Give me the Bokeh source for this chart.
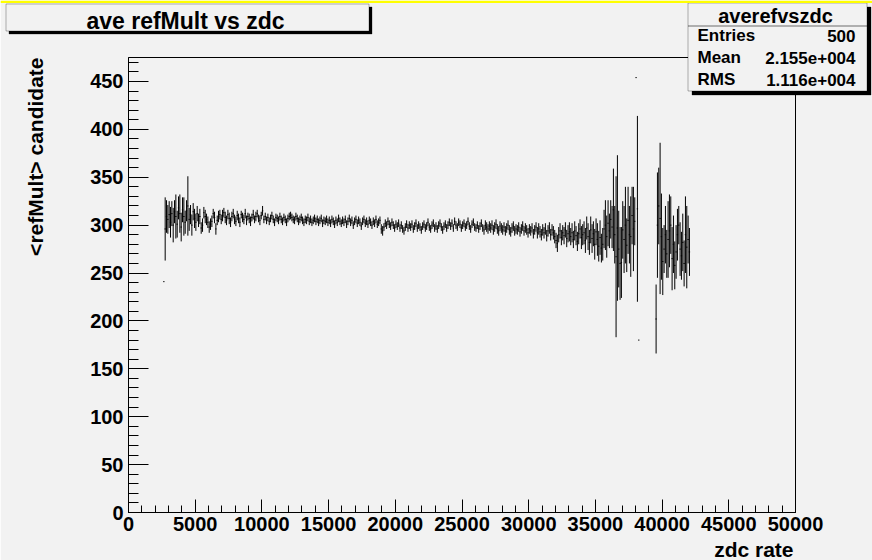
import math
from bokeh.plotting import figure
from bokeh.models import (Range1d, SingleIntervalTicker, Label, BoxAnnotation,
                          BasicTickFormatter, ColumnDataSource)
from bokeh.embed import file_html
from bokeh.resources import INLINE

# ---------------- data (TProfile "averefvszdc", 500 bins 0..50000) ----------------
BIN_WIDTH = 100
FIRST_BIN = 2600
N = None

mean_rows = [
    [241, 296, 309, 306, 311, 303, 312, 300, 314, 309],   # 2600
    [301, 318, 312, 298, 316, 309, 303, 315, 320, 306],   # 3600
    [311, 300, 314, 307, 303, 312, 305, 309, 297, 300],   # 4600
    [313, 309, 306, 303, 298, 301, 304, 312, 308, 296],   # 5600
    [305, 309, 311, 306, 310, 313, 308, 305, 311, 307],   # 6600
    [303, 309, 312, 306, 304, 310, 307, 303, 311, 308],   # 7600
    [306, 312, 305, 309, 307, 304, 308, 311, 306, 309],   # 8600
    [312, 307, 305, 310, 315, 306, 309, 305, 308, 304],   # 9600
    [307, 310, 306, 303, 308, 307, 305, 309, 306, 304],   # 10600
    [308, 306, 303, 307, 309, 310, 308, 306, 305, 309],   # 11600
    [307, 304, 306, 308, 305, 303, 306, 305, 308, 304],   # 12600
    [306, 303, 305, 307, 304, 306, 303, 305, 307, 302],   # 13600
    [305, 304, 306, 303, 305, 302, 306, 304, 301, 305],   # 14600
    [303, 307, 304, 302, 305, 303, 306, 301, 304, 307],   # 15600
    [303, 305, 300, 304, 306, 302, 305, 303, 299, 304],   # 16600
    [306, 302, 304, 301, 305, 303, 300, 304, 302, 306],   # 17600
    [301, 303, 305, 296, 294, 298, 302, 300, 304, 301],   # 18600
    [299, 303, 300, 297, 301, 299, 302, 297, 300, 296],   # 19600
    [294, 298, 301, 297, 300, 298, 301, 296, 299, 302],   # 20600
    [297, 300, 298, 295, 299, 301, 297, 299, 303, 298],   # 21600
    [296, 300, 302, 297, 299, 296, 300, 302, 298, 295],   # 22600
    [299, 301, 297, 300, 303, 299, 302, 297, 304, 300],   # 23600
    [298, 303, 301, 297, 300, 302, 298, 300, 304, 299],   # 24600
    [296, 301, 303, 298, 297, 300, 296, 299, 302, 297],   # 25600
    [295, 300, 298, 296, 299, 297, 300, 295, 298, 301],   # 26600
    [296, 294, 299, 297, 295, 298, 294, 297, 300, 295],   # 27600
    [293, 297, 299, 294, 296, 295, 298, 293, 296, 299],   # 28600
    [294, 297, 295, 292, 296, 294, 297, 291, 295, 298],   # 29600
    [292, 296, 293, 290, 295, 292, 296, 289, 294, 297],   # 30600
    [290, 295, 292, 288, 284, 281, 290, 294, 287, 292],   # 31600
    [289, 295, 286, 291, 293, 288, 292, 285, 294, 289],   # 32600
    [283, 291, 296, 287, 290, 292, 284, 297, 288, 282],   # 33600
    [295, 286, 291, 280, 293, 285, 278, 287, 276, 280],   # 34600
    [296, 300, 288, 302, 294, 306, 298, 316, 290, 267],   # 35600
    [297, 275, 260, 261, 295, 285, 300, 279, 305, 290],   # 36600
    [288, 310, 296, 304, 454, 317, 180, N, N, N],         # 37600
    [N, N, N, N, N, N, N, N, N, 202],                     # 38600
    [300, 320, 307, 288, 262, 275, 290, 270, 285, 294],   # 39600
    [300, 265, 280, 258, 272, 290, 300, 275, 268, 282],   # 40600
    [260, 290, 277, 285, 272],                            # 41600
]

err_rows = [
    [0, 33, 17, 15, 14, 16, 13, 18, 12, 23],
    [14, 12, 20, 15, 13, 20, 12, 11, 31, 12],
    [10, 11, 9, 10, 9, 8, 7, 8, 6, 7],
    [6, 7, 6, 6, 6, 6, 6, 5, 6, 6],
    [5, 6, 5, 5, 6, 5, 6, 5, 5, 6],
    [5, 5, 5, 5, 5, 5, 5, 5, 4, 5],
    [5, 5, 5, 4, 5, 5, 4, 5, 4, 5],
    [4, 4, 5, 4, 5, 4, 4, 4, 4, 4],
    [4, 4, 4, 4, 4, 4, 4, 4, 4, 4],
    [4, 4, 4, 4, 4, 4, 4, 4, 4, 4],
    [4, 4, 4, 4, 4, 4, 4, 4, 4, 4],
    [4, 4, 4, 4, 4, 4, 4, 4, 4, 4],
    [4, 4, 4, 4, 4, 4, 4, 4, 4, 4],
    [4, 4, 4, 4, 4, 4, 4, 4, 4, 4],
    [4, 4, 4, 4, 4, 4, 4, 4, 4, 4],
    [4, 4, 4, 4, 4, 4, 4, 4, 4, 4],
    [4, 4, 4, 5, 5, 4, 4, 4, 4, 4],
    [4, 4, 4, 4, 4, 4, 4, 4, 4, 4],
    [4, 4, 4, 4, 4, 4, 4, 4, 4, 4],
    [4, 4, 4, 4, 4, 4, 4, 4, 4, 4],
    [4, 4, 4, 4, 4, 4, 4, 4, 4, 4],
    [4, 4, 4, 4, 4, 4, 4, 4, 4, 4],
    [4, 4, 4, 4, 4, 4, 4, 4, 4, 4],
    [4, 4, 4, 4, 4, 4, 4, 4, 4, 4],
    [5, 5, 5, 5, 5, 5, 5, 5, 5, 5],
    [5, 5, 5, 5, 5, 5, 5, 5, 5, 5],
    [5, 5, 5, 5, 5, 5, 5, 5, 5, 5],
    [5, 5, 5, 5, 5, 5, 5, 5, 5, 5],
    [6, 6, 6, 6, 6, 6, 6, 6, 6, 6],
    [6, 6, 7, 7, 8, 9, 8, 8, 8, 8],
    [9, 8, 9, 9, 10, 9, 10, 9, 10, 10],
    [10, 11, 10, 12, 11, 12, 13, 12, 14, 13],
    [14, 15, 13, 16, 14, 17, 16, 18, 15, 17],
    [20, 26, 22, 24, 18, 20, 22, 43, 30, 84],
    [76, 40, 38, 37, 30, 35, 40, 28, 35, 30],
    [42, 30, 44, 25, 0, 97, 0, N, N, N],
    [N, N, N, N, N, N, N, N, N, 36],
    [55, 40, 79, 45, 35, 25, 30, 25, 40, 38],
    [30, 33, 30, 25, 28, 27, 20, 28, 25, 30],
    [24, 40, 43, 25, 25],
]

title_text = "ave refMult vs zdc"
x_title = "zdc rate"
y_title = "<refMult> candidate"
stats_title = "averefvszdc"
stats_names = ["Entries", "Mean", "RMS"]
stats_values = ["500", "2.155e+004", "1.116e+004"]

X_MIN, X_MAX = 0, 50000
Y_MIN, Y_MAX = 0, 475

# ---------------- build bins ----------------
means = [v for row in mean_rows for v in row]
errs = [v for row in err_rows for v in row]
x_lo, x_hi, x_c, y_m, y_lo, y_hi = [], [], [], [], [], []
for i, (m, e) in enumerate(zip(means, errs)):
    if m is None:
        continue
    lo = FIRST_BIN + i * BIN_WIDTH
    x_lo.append(lo)
    x_hi.append(lo + BIN_WIDTH)
    x_c.append(lo + BIN_WIDTH / 2)
    y_m.append(m)
    y_lo.append(m - e)
    y_hi.append(m + e)
src = ColumnDataSource(dict(x_lo=x_lo, x_hi=x_hi, x_c=x_c, y_m=y_m, y_lo=y_lo, y_hi=y_hi))

# ---------------- layout (window pixel coords) ----------------
W, H = 872, 560
FL, FR, FT, FB = 128, 795, 57, 512     # frame edges
BG = "#f2f2f2"
FONT = "Liberation Sans"
PIN = {"position": "absolute", "left": "0px", "top": "0px"}
SHIFT = 7   # label baseline correction (px)

p = figure(width=W, height=H, x_range=Range1d(X_MIN, X_MAX), y_range=Range1d(Y_MIN, Y_MAX),
           output_backend="svg", toolbar_location=None, title=None,
           min_border_left=FL, min_border_right=W - FR, min_border_top=FT, min_border_bottom=H - FB,
           background_fill_color=BG, border_fill_color=BG)
p.styles = PIN
p.outline_line_color = "black"
p.outline_line_width = 1
p.grid.visible = False

p.xaxis.ticker = SingleIntervalTicker(interval=5000, num_minor_ticks=5)
p.yaxis.ticker = SingleIntervalTicker(interval=50, num_minor_ticks=5)
for ax in (p.xaxis[0], p.yaxis[0]):
    ax.formatter = BasicTickFormatter(use_scientific=False)
    ax.axis_line_color = "black"
    ax.major_tick_line_color = "black"
    ax.minor_tick_line_color = "black"
    ax.major_tick_out = 0
    ax.minor_tick_out = 0
    ax.major_label_text_font = FONT
    ax.major_label_text_font_style = "bold"
    ax.major_label_text_font_size = "20px"
    ax.major_label_text_color = "black"
p.xaxis.major_tick_in = 13
p.xaxis.minor_tick_in = 7
p.xaxis.major_label_standoff = 4
p.yaxis.major_tick_in = 20
p.yaxis.minor_tick_in = 10
p.yaxis.major_label_standoff = 5

# profile bins: horizontal bin-width bar + vertical error bar
p.segment(x0="x_lo", y0="y_m", x1="x_hi", y1="y_m", source=src, line_color="black", line_width=1)
p.segment(x0="x_c", y0="y_lo", x1="x_c", y1="y_hi", source=src, line_color="black", line_width=1)

# ---------------- overlay canvas for panes and titles (pixel coordinates) ----------------
o = figure(width=W, height=H, x_range=Range1d(0, W), y_range=Range1d(H, 0),
           output_backend="svg", toolbar_location=None, title=None,
           x_axis_location=None, y_axis_location=None,
           min_border_left=0, min_border_right=0, min_border_top=0, min_border_bottom=0,
           background_fill_color=None, border_fill_color=None)
o.styles = PIN
o.outline_line_color = None
o.grid.visible = False


def box(l, t, r, b, fill, line=None):
    o.add_layout(BoxAnnotation(left=l, right=r, top=t, bottom=b, fill_color=fill,
                               fill_alpha=1 if fill else 0, line_color=line, line_width=1))


def text(x, y, s, size, align="left", angle=0.0):
    o.add_layout(Label(x=x, y=y, text=s, angle=angle, text_align=align,
                       text_baseline="alphabetic", text_font=FONT, text_font_style="bold",
                       text_font_size=size, text_color="black"))


# axis titles
text(45 - 10, FT, y_title, "21px", align="right", angle=math.pi / 2)
text(FR - 2, 556 - SHIFT, x_title, "21px", align="right")

# title pave with shadow
box(8.5, 6.5, 371.5, 33.5, "black", "black")
box(5.5, 3.5, 368.5, 30.5, BG, "black")
text(185, 27 - SHIFT, title_text, "23px", align="center")

# statistics pave with shadow
SL, SR, ST, SB = 687.5, 866.5, 2.5, 90.5
box(SL + 4, ST + 4, SR + 4, SB + 4, "black", "black")
box(SL, ST, SR, SB, BG, "black")
box(SL, 25.5, SR, 25.5, None, "black")
text(775, 22 - SHIFT, stats_title, "20px", align="center")
for k, (nm, val) in enumerate(zip(stats_names, stats_values)):
    base = 42 + 22 * k - SHIFT
    text(697, base, nm, "17px", align="left")
    text(855, base, val, "17px", align="right")

# window highlight strip along the top edge
box(0, 0, W, 2.5, "#ffff00", None)

open("out.html", "w").write(file_html([p, o], INLINE))
